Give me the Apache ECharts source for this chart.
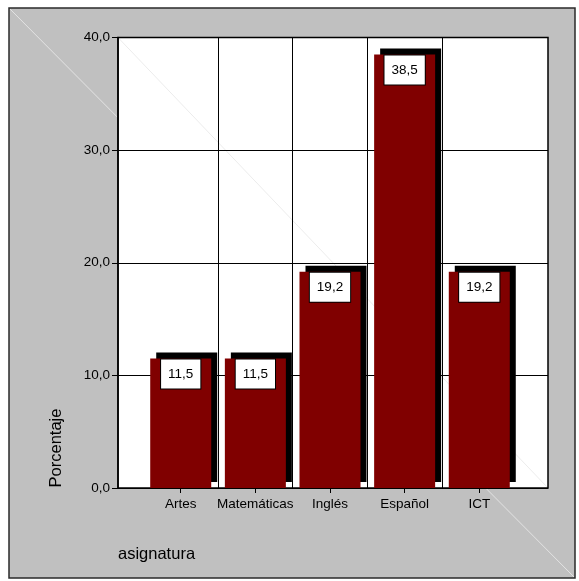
<!DOCTYPE html>
<html>
<head>
<meta charset="utf-8">
<script src="https://cdn.jsdelivr.net/npm/echarts@6/dist/echarts.min.js"></script>
<style>
  html, body { margin: 0; padding: 0; background: #fff; }
  #chart { width: 579px; height: 581px; }
</style>
</head>
<body>
<div id="chart"></div>
<script>
// Subjects and their share (%)
const categories = ['Artes', 'Matemáticas', 'Inglés', 'Español', 'ICT'];
const percentages = [11.5, 11.5, 19.2, 38.5, 19.2];
const yMin = 0;
const yMax = 40;
const yStep = 10;
const yAxisTitle = 'Porcentaje';
const xAxisTitle = 'asignatura';

// Layout (pixels)
const plotLeft = 118, plotRight = 548, plotTop = 37.5, plotBottom = 488;
const bandLeft = 143.4, bandWidth = 74.64;
const bandRight = bandLeft + bandWidth * categories.length;

const FONT = '"Liberation Sans", Arial, sans-serif';
const TEXT = '#000';
const comma = v => v.toFixed(1).replace('.', ',');

// Inner categories: their band edges are the separators between subjects
const innerBands = categories.slice(1, -1);

const chart = echarts.init(document.getElementById('chart'), null, { renderer: 'canvas' });

const plotHeight = plotBottom - plotTop;

chart.setOption({
  backgroundColor: '#ffffff',
  animation: false,
  textStyle: { fontFamily: FONT },
  grid: [
    { // white plot frame with horizontal grid
      left: plotLeft, top: plotTop,
      width: plotRight - plotLeft, height: plotHeight,
      show: true, backgroundColor: '#ffffff',
      borderColor: '#000', borderWidth: 1.5
    },
    { // band area holding the bars
      left: bandLeft, top: plotTop,
      width: bandRight - bandLeft, height: plotHeight
    },
    { // inner bands, whose edges give the vertical separators
      left: bandLeft + bandWidth, top: plotTop,
      width: bandWidth * innerBands.length, height: plotHeight
    }
  ],
  xAxis: [
    {
      type: 'value', gridIndex: 0, min: 0, max: 1,
      show: false,
      splitLine: { show: false }
    },
    {
      type: 'category', gridIndex: 1, data: categories,
      axisLine: { show: false },
      axisTick: { show: true, alignWithLabel: true, length: 5, lineStyle: { color: '#000', width: 1 } },
      axisLabel: { margin: 9, fontSize: 13.5, color: TEXT, fontFamily: FONT, interval: 0 },
      splitLine: { show: false }
    },
    {
      type: 'category', gridIndex: 2, data: innerBands,
      axisLine: { show: false },
      axisTick: { show: false },
      axisLabel: { show: false },
      splitLine: { show: true, interval: 0, lineStyle: { color: '#000', width: 1 } }
    }
  ],
  yAxis: [
    {
      type: 'value', gridIndex: 0, min: yMin, max: yMax, interval: yStep,
      axisLine: { show: true, lineStyle: { color: '#000', width: 1.5 } },
      axisTick: { show: true, length: 6, lineStyle: { color: '#000', width: 1 } },
      axisLabel: { margin: 8, fontSize: 13.5, color: TEXT, fontFamily: FONT, formatter: comma },
      splitLine: { show: true, lineStyle: { color: '#000', width: 1 } }
    },
    {
      type: 'value', gridIndex: 1, min: yMin, max: yMax, interval: yStep,
      show: false
    },
    {
      type: 'value', gridIndex: 2, min: yMin, max: yMax, interval: yStep,
      show: false
    }
  ],
  graphic: [
    { // grey outer panel
      type: 'rect', z: -10, silent: true,
      shape: { x: 9, y: 8, width: 566, height: 570 },
      style: { fill: '#c0c0c0', stroke: '#2a2a2a', lineWidth: 1.5 }
    },
    {
      type: 'line', z: -9, silent: true,
      shape: { x1: 10, y1: 9, x2: 574, y2: 577 },
      style: { stroke: 'rgba(255,255,255,0.55)', lineWidth: 1 }
    },
    {
      type: 'line', z: 1, silent: true,
      shape: { x1: plotLeft, y1: plotTop, x2: plotRight, y2: plotBottom },
      style: { stroke: 'rgba(0,0,0,0.08)', lineWidth: 1 }
    },
    {
      type: 'text', z: 5, silent: true,
      x: 56, y: 448, rotation: Math.PI / 2,
      style: {
        text: yAxisTitle, font: '16.5px ' + FONT, fill: TEXT,
        align: 'center', verticalAlign: 'middle'
      }
    },
    {
      type: 'text', z: 5, silent: true,
      x: 118, y: 554,
      style: {
        text: xAxisTitle, font: '16.5px ' + FONT, fill: TEXT,
        align: 'left', verticalAlign: 'middle'
      }
    }
  ],
  series: [
    {
      type: 'bar', xAxisIndex: 1, yAxisIndex: 1,
      data: percentages,
      barWidth: 61,
      itemStyle: {
        color: '#800000',
        shadowColor: '#000', shadowBlur: 0, shadowOffsetX: 6, shadowOffsetY: -6
      },
      label: {
        show: true, position: 'insideTop', distance: 1,
        formatter: p => comma(p.value),
        fontFamily: FONT, fontSize: 13.5, color: TEXT, lineHeight: 15,
        backgroundColor: '#fff', borderColor: '#000', borderWidth: 1,
        padding: [7, 7, 7, 7]
      }
    }
  ]
});
</script>
</body>
</html>
